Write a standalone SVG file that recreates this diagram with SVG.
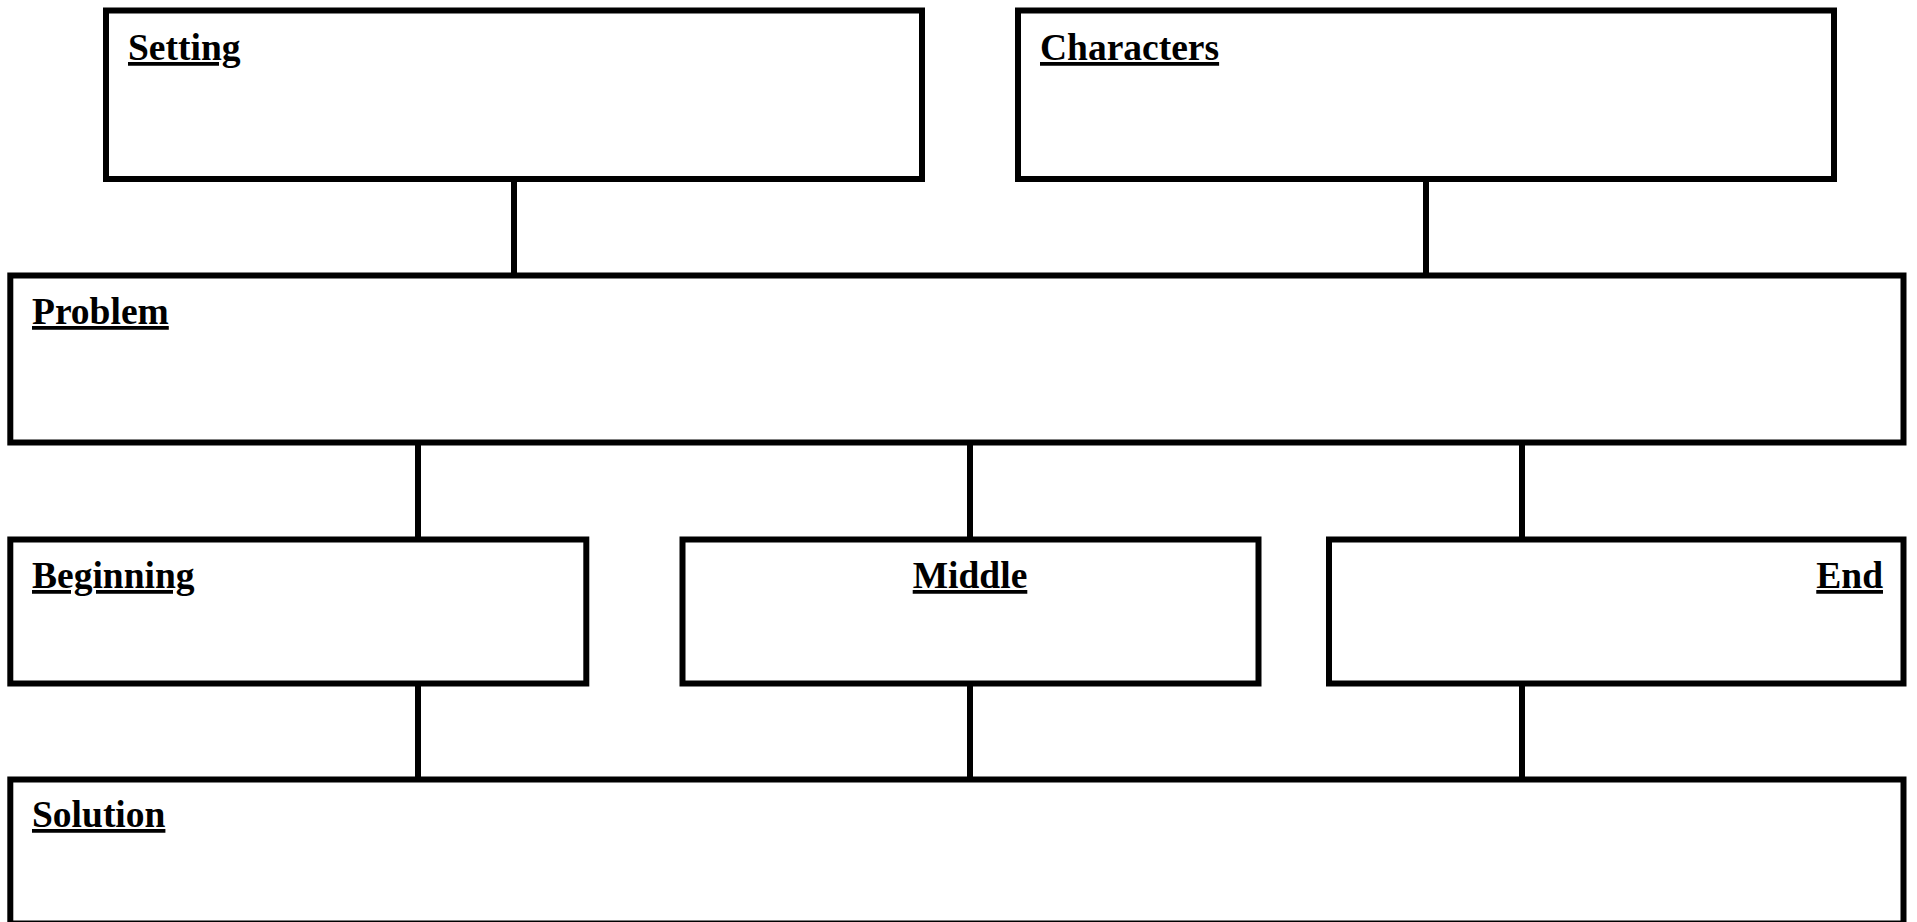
<svg xmlns="http://www.w3.org/2000/svg" width="1917" height="922" viewBox="0 0 1917 922">
<style>
.box{fill:#fff;stroke:#000;stroke-width:6}
.conn{stroke:#000;stroke-width:6;fill:none}
.lbl{font-family:"Liberation Serif","Times New Roman",serif;font-weight:bold;font-size:37.5px;fill:#000;text-decoration:underline}
</style>
<rect width="1917" height="922" fill="#fff"/>
<g id="connectors">
<line class="conn" x1="514" y1="179" x2="514" y2="275.5"/>
<line class="conn" x1="1426" y1="179" x2="1426" y2="275.5"/>
<line class="conn" x1="418" y1="442.5" x2="418" y2="539.5"/>
<line class="conn" x1="970" y1="442.5" x2="970" y2="539.5"/>
<line class="conn" x1="1522" y1="442.5" x2="1522" y2="539.5"/>
<line class="conn" x1="418" y1="683.5" x2="418" y2="779.5"/>
<line class="conn" x1="970" y1="683.5" x2="970" y2="779.5"/>
<line class="conn" x1="1522" y1="683.5" x2="1522" y2="779.5"/>
</g>
<g id="setting">
<rect class="box" x="106" y="10.5" width="816" height="168.5"/>
<text class="lbl" x="128" y="60">Setting</text>
</g>
<g id="characters">
<rect class="box" x="1018" y="10.5" width="816" height="168.5"/>
<text class="lbl" x="1040" y="60">Characters</text>
</g>
<g id="problem">
<rect class="box" x="10.3" y="275.5" width="1893.2" height="167"/>
<text class="lbl" x="32" y="324">Problem</text>
</g>
<g id="beginning">
<rect class="box" x="10.3" y="539.5" width="576" height="144"/>
<text class="lbl" x="32" y="588">Beginning</text>
</g>
<g id="middle">
<rect class="box" x="682.5" y="539.5" width="576" height="144"/>
<text class="lbl" x="970" y="588" text-anchor="middle">Middle</text>
</g>
<g id="end">
<rect class="box" x="1329" y="539.5" width="574.5" height="144"/>
<text class="lbl" x="1883" y="588" text-anchor="end">End</text>
</g>
<g id="solution">
<rect class="box" x="10.3" y="779.5" width="1893.2" height="144"/>
<text class="lbl" x="32" y="827">Solution</text>
</g>
</svg>
